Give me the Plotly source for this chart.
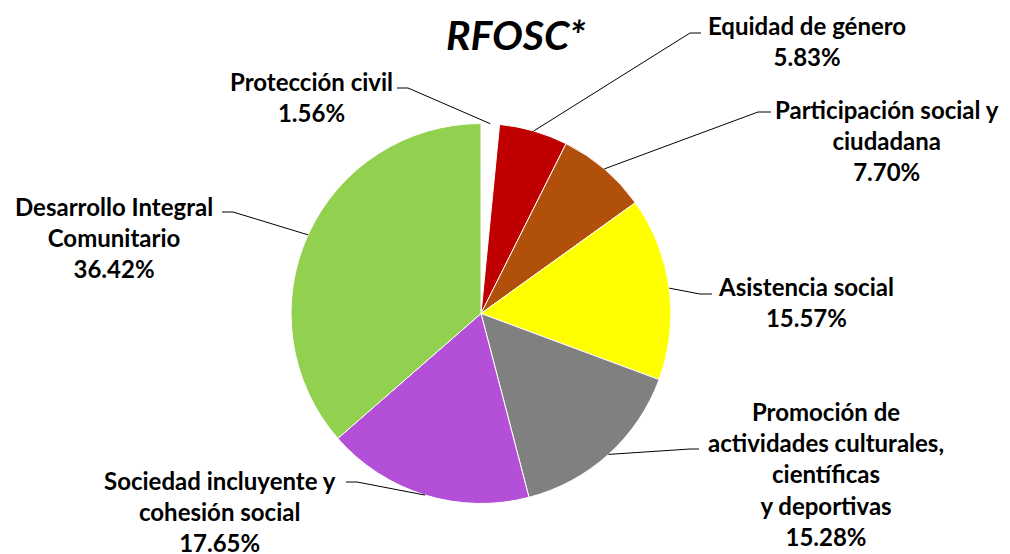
import math
import plotly.graph_objects as go

# ---- data ----
categories = [
    "Protección civil",
    "Equidad de género",
    "Participación social y ciudadana",
    "Asistencia social",
    "Promoción de actividades culturales, científicas y deportivas",
    "Sociedad incluyente y cohesión social",
    "Desarrollo Integral Comunitario",
]
label_text = [
    "Protección civil",
    "Equidad de género",
    "Participación social y<br>ciudadana",
    "Asistencia social",
    "Promoción de<br>actividades culturales,<br>científicas<br>y deportivas",
    "Sociedad incluyente y<br>cohesión social",
    "Desarrollo Integral<br>Comunitario",
]
values = [1.56, 5.83, 7.70, 15.57, 15.28, 17.65, 36.42]
colors = ["#FFFFFF", "#C00000", "#B0500A", "#FFFF00", "#808080", "#B450D8", "#92D050"]

# ---- layout (pixels, as seen on the page) ----
W, H = 1010, 554
OFF = 8  # page body margin
cx, cy, R = 481, 313.5, 190
label_pos = [(311, 96.5), (807, 41), (887, 140), (806, 302), (826, 473.5), (220, 511.5), (114, 237)]
elbows = [
    [(408, 88), (397, 88)],
    [(690, 33), (701, 33)],
    [(758, 112), (771, 112)],
    [(700, 294), (712, 294)],
    [(690, 449), (699, 449)],
    [(357, 482), (346, 482)],
    [(233, 212), (222, 212)],
]

def px(x):
    return (x - OFF) / W

def py(y):
    return 1 - (y - OFF) / H

fig = go.Figure()
fig.add_trace(go.Pie(
    labels=categories,
    values=values,
    sort=False,
    direction="clockwise",
    rotation=0,
    marker=dict(colors=colors, line=dict(color="white", width=1)),
    textinfo="none",
    hoverinfo="label+percent",
    showlegend=False,
    domain=dict(x=[px(cx - R), px(cx + R)], y=[py(cy + R), py(cy - R)]),
))

total = sum(values)
cum = 0.0
shapes = []
annotations = []
font = dict(family="Lato, 'Open Sans', sans-serif", size=24, color="black")
for i, v in enumerate(values):
    mid = (cum + v / 2) / total * 2 * math.pi
    cum += v
    ax = cx + R * math.sin(mid)
    ay = cy - R * math.cos(mid)
    pts = [(ax, ay)] + elbows[i]
    for (x0, y0), (x1, y1) in zip(pts[:-1], pts[1:]):
        shapes.append(dict(type="line", xref="paper", yref="paper",
                           x0=px(x0), y0=py(y0), x1=px(x1), y1=py(y1),
                           line=dict(color="black", width=1)))
    lx, ly = label_pos[i]
    annotations.append(dict(
        text=f"<b>{label_text[i]}<br>{v:.2f}%</b>",
        x=px(lx), y=py(ly), xref="paper", yref="paper",
        xanchor="center", yanchor="middle", showarrow=False,
        align="center", font=font,
    ))

annotations.append(dict(
    text="<b><i>RFOSC*</i></b>", x=px(516), y=1.0, xref="paper", yref="paper",
    xanchor="center", yanchor="top", showarrow=False,
    font=dict(family="Lato, sans-serif", size=41, color="black"),
))

fig.update_layout(
    width=W, height=H,
    margin=dict(l=0, r=0, t=0, b=0),
    paper_bgcolor="white", plot_bgcolor="white",
    shapes=shapes, annotations=annotations,
)
fig.write_html("out.html")
